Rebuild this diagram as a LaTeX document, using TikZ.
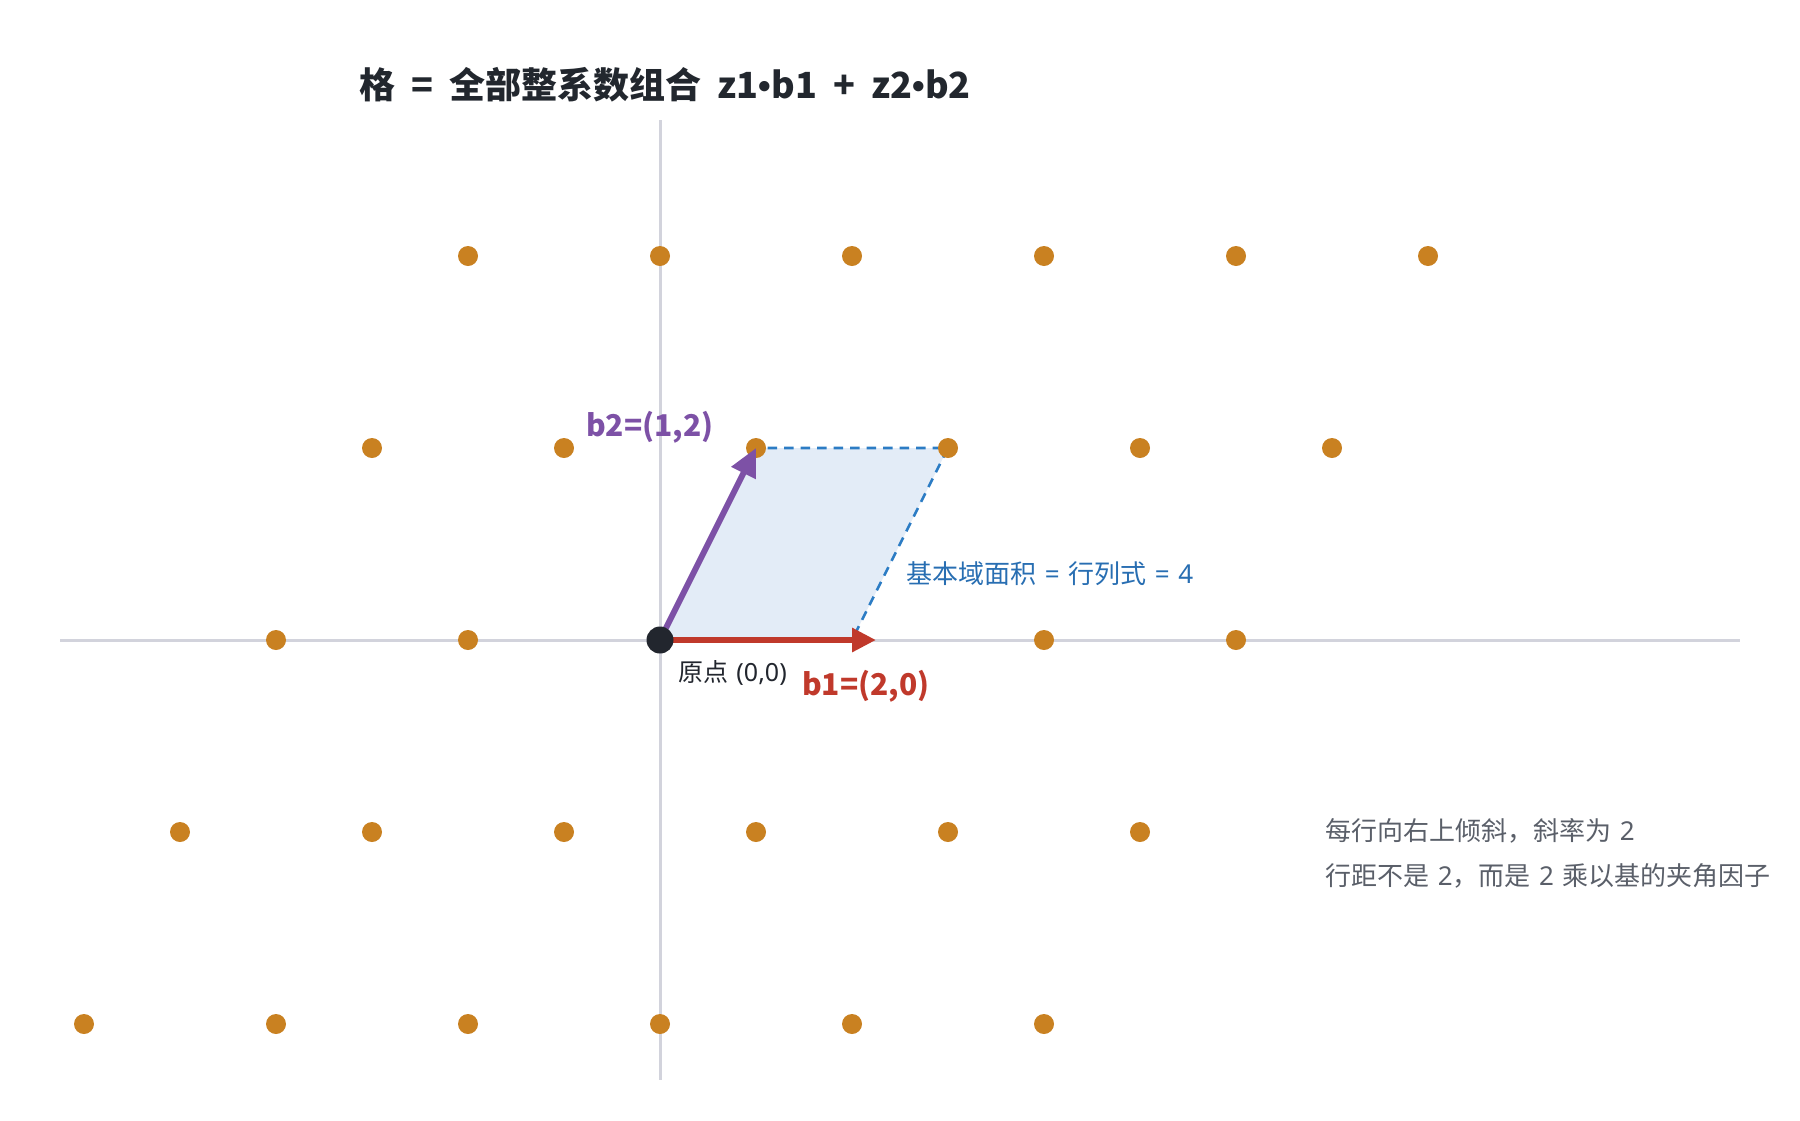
\documentclass[tikz,border=0pt]{standalone}
\usepackage{fontspec}
\setmainfont{Noto Sans CJK SC}
\newfontfamily\lf{Noto Sans}
\newfontfamily\bulf{Liberation Sans}
\usetikzlibrary{arrows.meta}
\definecolor{dotc}{RGB}{201,129,33}
\definecolor{redc}{RGB}{192,57,43}
\definecolor{purc}{RGB}{125,81,166}
\definecolor{dashc}{RGB}{44,124,196}
\definecolor{lblc}{RGB}{40,110,178}
\definecolor{fillc}{RGB}{227,236,247}
\definecolor{axisc}{RGB}{210,211,220}
\definecolor{origc}{RGB}{34,38,46}
\definecolor{titlec}{RGB}{34,39,46}
\definecolor{notec}{RGB}{90,95,105}
\newcommand{\wsp}{\hspace{0.33em}}
\newcommand{\tsp}{\hspace{0.45em}}
\newcommand{\bul}{{\bulf\bfseries •}}
\tikzset{
  latdot/.style={circle,fill=dotc,inner sep=0pt,minimum size=20pt},
  origdot/.style={circle,fill=origc,inner sep=0pt,minimum size=27pt},
  axisline/.style={draw=axisc,line width=3pt},
  celledge/.style={draw=dashc,line width=2.6pt,dash pattern=on 9.5pt off 7pt,fill=fillc},
  vecred/.style={draw=redc,line width=6pt,-{Triangle[length=24pt,width=23pt]}},
  vecpur/.style={draw=purc,line width=6pt,-{Triangle[length=28pt,width=26pt]}},
  txt/.style={anchor=base west,inner sep=0pt},
}
\begin{document}
\begin{tikzpicture}[x=1pt,y=-1pt]
\useasboundingbox (0,0) rectangle (1800,1120);
% axes
\coordinate (axL) at (60,640);
\coordinate (axR) at (1740,640);
\coordinate (axT) at (660,120);
\coordinate (axB) at (660,1080);
\draw[axisline] (axL) -- (axR);
\draw[axisline] (axT) -- (axB);
% fundamental cell
\coordinate (O) at (660,640);
\coordinate (A) at (852,640);
\coordinate (B) at (756,448);
\coordinate (C) at (948,448);
\coordinate (Atip) at (876,640);
\path[celledge] (O) -- (A) -- (C) -- (B) -- cycle;
% lattice points
\foreach \a in {-2,...,3}{
  \foreach \b in {-2,...,2}{
    \pgfmathtruncatemacro\skipit{(\b==0)&&(\a>=0)&&(\a<=1)}
    \ifnum\skipit=0
      \node[latdot] (p\a x\b) at ({660+96*(2*\a+\b)},{640-192*\b}) {};
    \fi
  }
}
% basis vectors
\draw[vecred] (O) -- (Atip);
\draw[vecpur] (O) -- (B);
\node[origdot] (orig) at (O) {};
% texts
\node[txt,font=\bfseries\fontsize{36}{40}\selectfont,text=titlec] (title) at (359,98) {格\tsp=\tsp 全部整系数组合\tsp z1\bul b1\tsp+\tsp z2\bul b2};
\node[txt,font=\bfseries\fontsize{30}{34}\selectfont,text=purc] (lb2) at (586,436) {b2=(1,2)};
\node[txt,font=\bfseries\fontsize{30}{34}\selectfont,text=redc] (lb1) at (802,695) {b1=(2,0)};
\node[txt,font=\fontsize{25}{29}\selectfont,text=origc] (lorig) at (678,681) {原点{\lf\wsp(0,0)}};
\node[txt,font=\fontsize{26}{30}\selectfont,text=lblc] (larea) at (906,583) {基本域面积{\lf\wsp=\wsp}行列式{\lf\wsp=\wsp4}};
\node[txt,font=\fontsize{26}{30}\selectfont,text=notec] (note1) at (1325,840) {每行向右上倾斜，斜率为{\lf\wsp2}};
\node[txt,font=\fontsize{26}{30}\selectfont,text=notec] (note2) at (1325,885) {行距不是{\lf\wsp2}，而是{\lf\wsp2\wsp}乘以基的夹角因子};
\end{tikzpicture}
\end{document}
